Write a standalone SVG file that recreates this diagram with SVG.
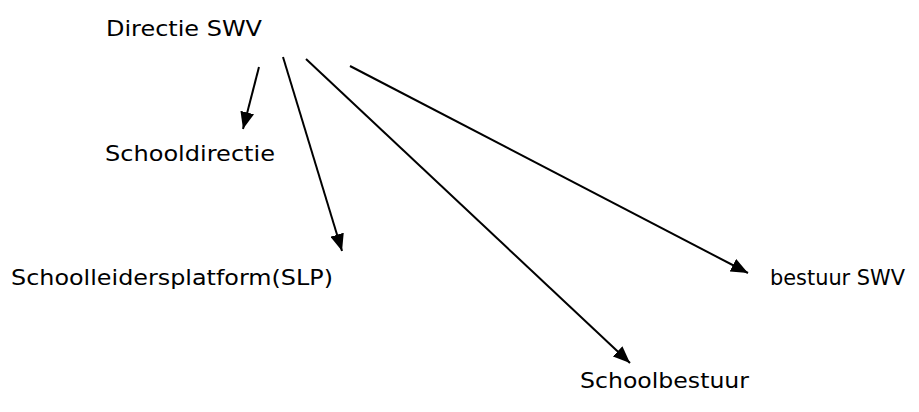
<svg xmlns="http://www.w3.org/2000/svg" width="919" height="412" viewBox="0 0 919 412">
<style>
text{font-family:"DejaVu Sans","Noto Sans",sans-serif;font-size:22px;fill:#000}
.c{stroke:#000;stroke-width:2;fill:none;marker-end:url(#ah)}
</style>
<defs>
<marker id="ah" markerUnits="userSpaceOnUse" markerWidth="18" markerHeight="14" refX="17" refY="7" orient="auto">
<path d="M0,0 L17,7 L0,14 Z" fill="#000"/>
</marker>
</defs>
<rect width="919" height="412" fill="#fff"/>
<g id="connectors">
<line class="c" x1="259" y1="67" x2="243" y2="129"/>
<line class="c" x1="283" y1="57" x2="342" y2="251"/>
<line class="c" x1="306" y1="59" x2="630" y2="363"/>
<line class="c" x1="350" y1="66" x2="748" y2="273"/>
</g>
<g id="directie-swv"><text x="106" y="36" textLength="156" lengthAdjust="spacingAndGlyphs">Directie SWV</text></g>
<g id="schooldirectie"><text x="105" y="161" textLength="170" lengthAdjust="spacingAndGlyphs">Schooldirectie</text></g>
<g id="slp"><text x="11" y="285" textLength="322" lengthAdjust="spacingAndGlyphs">Schoolleidersplatform(SLP)</text></g>
<g id="bestuur-swv"><text x="770" y="285" textLength="135" lengthAdjust="spacingAndGlyphs">bestuur SWV</text></g>
<g id="schoolbestuur"><text x="580" y="388" textLength="169" lengthAdjust="spacingAndGlyphs">Schoolbestuur</text></g>
</svg>
